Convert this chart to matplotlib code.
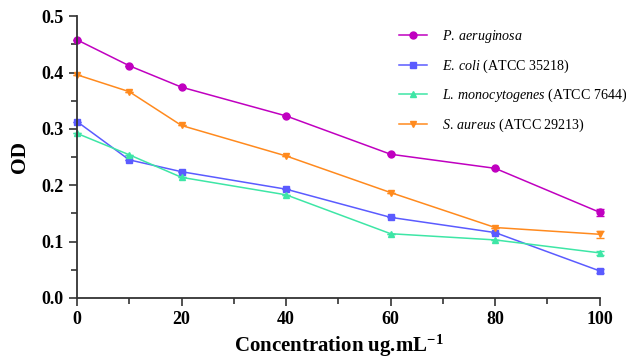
import matplotlib
matplotlib.use("Agg")
import matplotlib.pyplot as plt
from matplotlib.ticker import MultipleLocator
from matplotlib.lines import Line2D

plt.rcParams['font.family'] = ['Liberation Serif', 'DejaVu Serif']
plt.rcParams['mathtext.fontset'] = 'custom'
plt.rcParams['mathtext.rm'] = 'Liberation Serif'
plt.rcParams['mathtext.it'] = 'Liberation Serif:italic'
plt.rcParams['mathtext.bf'] = 'Liberation Serif:bold'

conc = [0, 10, 20, 40, 60, 80, 100]
p_aeruginosa = [0.458, 0.412, 0.374, 0.323, 0.255, 0.230, 0.152]
e_coli = [0.313, 0.245, 0.224, 0.193, 0.143, 0.116, 0.048]
l_mono = [0.292, 0.254, 0.214, 0.183, 0.114, 0.103, 0.080]
s_aureus = [0.396, 0.366, 0.306, 0.252, 0.187, 0.125, 0.113]
err_last = [0.006, 0.004, 0.004, 0.006]

labels = [r'$\it{P.\:aeruginosa}$',
          r'$\it{E.\:coli}$ (ATCC 35218)',
          r'$\it{L.\:monocytogenes}$ (ATCC 7644)',
          r'$\it{S.\:aureus}$ (ATCC 29213)']
colors = ['#C000C0', '#5B5BFF', '#3EE6A6', '#FF8A1E']
markers = ['o', 's', '^', 'v']
series = [p_aeruginosa, e_coli, l_mono, s_aureus]

fig = plt.figure(figsize=(6.26, 3.59), dpi=100)
ax = fig.add_axes([0.123, 0.170, 0.835, 0.785])

handles = []
for y, c, m, lab, e in zip(series, colors, markers, labels, err_last):
    errs = [0]*(len(y)-1) + [e]
    ax.errorbar(conc, y, yerr=errs, color=c, marker=m, markersize=5, lw=1.1,
                capsize=3, capthick=1, elinewidth=1)
    handles.append(Line2D([], [], color=c, marker=m, markersize=5, lw=1.1, label=lab))

ax.set_xlim(0, 100)
ax.set_ylim(0, 0.5)
ax.xaxis.set_major_locator(MultipleLocator(20))
ax.xaxis.set_minor_locator(MultipleLocator(10))
ax.yaxis.set_major_locator(MultipleLocator(0.1))
ax.yaxis.set_minor_locator(MultipleLocator(0.05))
ax.yaxis.set_major_formatter(matplotlib.ticker.FormatStrFormatter('%.1f'))
for s in ['top', 'right']:
    ax.spines[s].set_visible(False)
for s in ['left', 'bottom']:
    ax.spines[s].set_color('#333333')
    ax.spines[s].set_linewidth(1.3)
    ax.spines[s].set_clip_on(False)
ax.tick_params(which='both', direction='out', color='#333333', width=1.2)
ax.tick_params(which='major', length=6, labelsize=13)
ax.tick_params(which='minor', length=4)
for t in ax.get_xticklabels() + ax.get_yticklabels():
    t.set_fontweight('bold')
ax.set_xlabel(r'Concentration ug.mL$^{\mathbf{-1}}$', fontsize=15, fontweight='bold', labelpad=3)
ax.set_ylabel('OD', fontsize=15.5, fontweight='bold', labelpad=8)
for line in ax.lines:
    line.set_clip_on(False)

leg = fig.legend(handles=handles, loc='upper left', bbox_to_anchor=(0.618, 0.957),
                 frameon=False, fontsize=10.1, labelspacing=0.88, handlelength=1.95,
                 handletextpad=1.05)

fig.savefig('out.png', dpi=100)
